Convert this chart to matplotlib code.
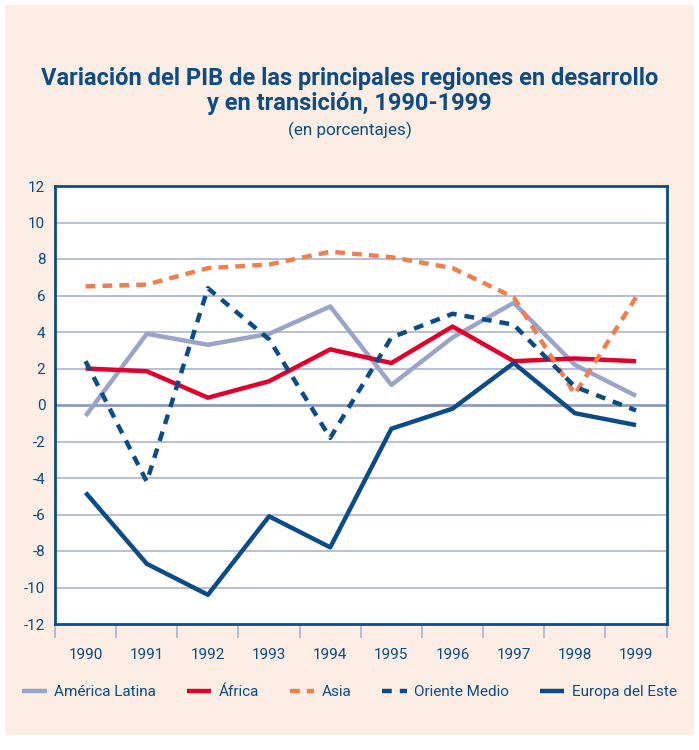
import matplotlib
matplotlib.use("Agg")
import matplotlib.pyplot as plt
from matplotlib.patches import Rectangle

years = ["1990", "1991", "1992", "1993", "1994", "1995", "1996", "1997", "1998", "1999"]
america_latina = [-0.6, 3.9, 3.3, 3.9, 5.4, 1.1, 3.7, 5.6, 2.2, 0.5]
africa = [2.0, 1.85, 0.4, 1.3, 3.05, 2.3, 4.3, 2.4, 2.55, 2.4]
asia = [6.5, 6.6, 7.5, 7.7, 8.4, 8.1, 7.5, 5.9, 0.6, 5.9]
oriente_medio = [2.4, -4.2, 6.4, 3.6, -1.8, 3.7, 5.0, 4.4, 1.0, -0.3]
europa_este = [-4.8, -8.7, -10.4, -6.1, -7.8, -1.3, -0.2, 2.3, -0.45, -1.1]
yticks = list(range(-12, 13, 2))

navy = "#0b4c86"
grid_c = "#aab3d3"
bg = "#fdeee5"

plt.rcParams['font.family'] = ['Roboto', 'DejaVu Sans']

fig = plt.figure(figsize=(6.99, 7.5), dpi=100)
fig.patch.set_facecolor("white")
fig.patches.append(Rectangle((0.007, 0.02), 0.986, 0.973, transform=fig.transFigure,
                             facecolor=bg, edgecolor="none", zorder=-10))

ax = fig.add_axes([0.0787, 0.168, 0.875, 0.584])
ax.set_facecolor("white")
x = list(range(len(years)))

ax.plot(x, america_latina, color="#99a4c6", lw=3.2, label="América Latina", solid_capstyle="butt")
ax.plot(x, africa, color="#e0002b", lw=3.2, label="África", solid_capstyle="butt")
ax.plot(x, asia, color="#f07f50", lw=3.2, dashes=(2.2, 1.6), label="Asia")
ax.plot(x, oriente_medio, color=navy, lw=3.2, dashes=(2.2, 1.8), label="Oriente Medio")
ax.plot(x, europa_este, color=navy, lw=3.2, label="Europa del Este", solid_capstyle="butt")

ax.set_xlim(-0.5, len(years) - 0.5)
ax.set_ylim(-12, 12)
ax.set_yticks(yticks)
ax.set_yticklabels([str(v) for v in yticks])
for v in yticks:
    if v == 0:
        ax.axhline(v, color="#8e9abf", lw=2, zorder=0)
    elif -12 < v < 12:
        ax.axhline(v, color=grid_c, lw=1.2, zorder=0)

ax.set_xticks([i - 0.5 for i in range(len(years) + 1)])
ax.set_xticklabels([])
ax.set_xticks(x, minor=True)
ax.set_xticklabels(years, minor=True)
ax.tick_params(axis="x", which="major", length=10, width=1.2, color=grid_c, direction="out")
ax.tick_params(axis="x", which="minor", length=0, pad=17, labelsize=11, labelcolor=navy)
ax.tick_params(axis="y", length=0, pad=7, labelsize=11, labelcolor=navy)

for s in ax.spines.values():
    s.set_color(navy)
    s.set_linewidth(2)

fig.text(0.5, 0.895, "Variación del PIB de las principales regiones en desarrollo",
         ha="center", va="center", fontsize=17, fontweight="bold", color=navy)
fig.text(0.5, 0.862, "y en transición, 1990-1999",
         ha="center", va="center", fontsize=17, fontweight="bold", color=navy)
fig.text(0.5, 0.826, "(en porcentajes)", ha="center", va="center", fontsize=12.3, color=navy)

leg = fig.legend(loc="center", bbox_to_anchor=(0.5, 0.077), ncol=5, frameon=False,
                 handlelength=1.6, handletextpad=0.5, columnspacing=2.0, fontsize=11)
for t in leg.get_texts():
    t.set_color(navy)

fig.savefig("out.png", dpi=100, facecolor=fig.get_facecolor())
